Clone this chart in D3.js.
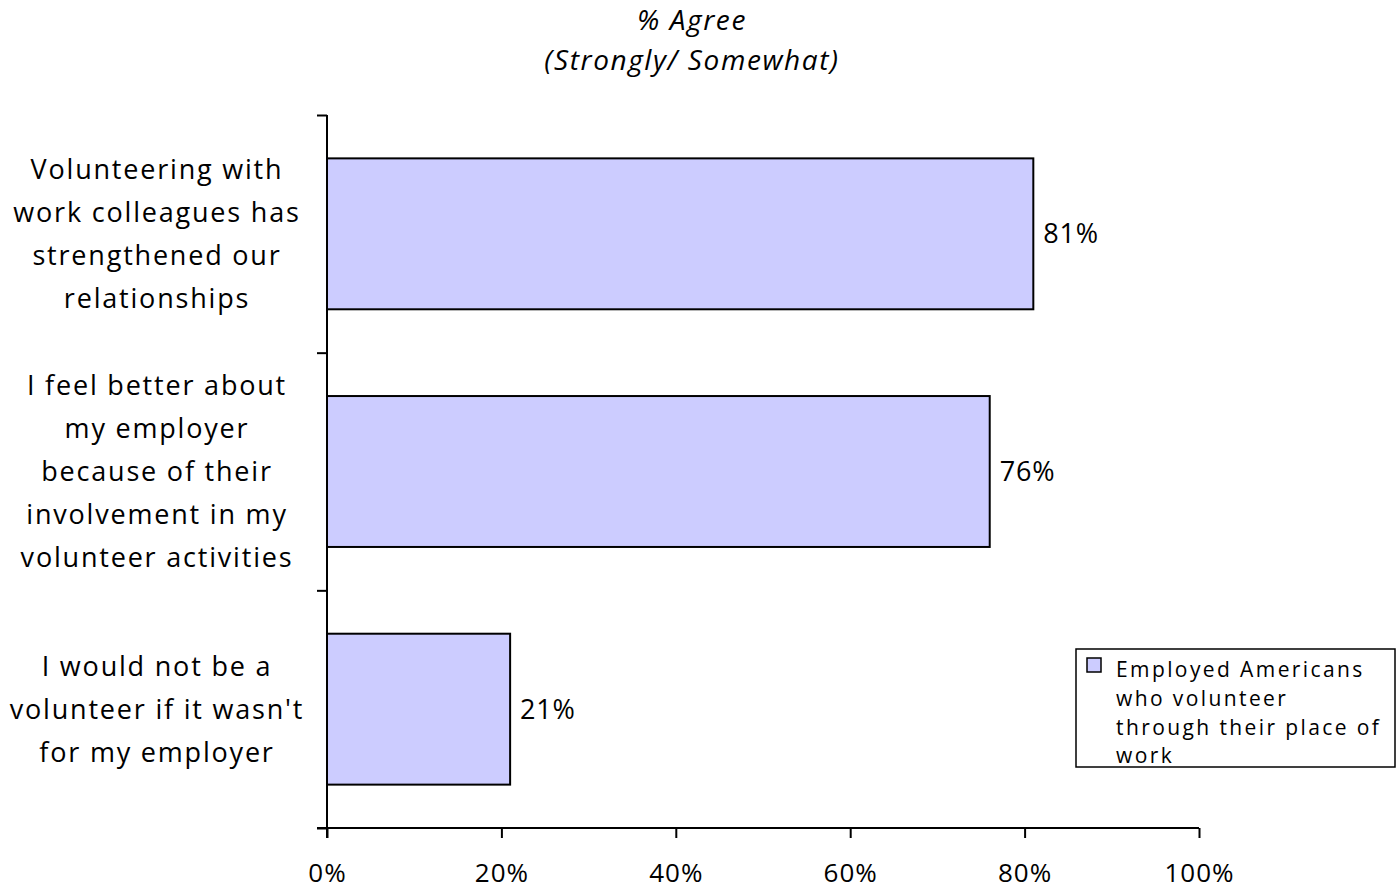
<!DOCTYPE html>
<html>
<head>
<meta charset="utf-8">
<script src="https://cdn.jsdelivr.net/npm/d3@7"></script>
<style>
  html, body { margin: 0; padding: 0; background: #fff; }
  svg text { font-family: "Open Sans", Lato, sans-serif; fill: #000; }
</style>
</head>
<body>
<svg id="chart" width="1397" height="893"></svg>
<script>
// Survey statements (one array of lines per bar) and share agreeing
const categories = [
  ["Volunteering with", "work colleagues has", "strengthened our", "relationships"],
  ["I feel better about", "my employer", "because of their", "involvement in my", "volunteer activities"],
  ["I would not be a", "volunteer if it wasn't", "for my employer"]
];
const values = [81, 76, 21];
const xTicks = [0, 20, 40, 60, 80, 100];
const titleLines = ["% Agree", "(Strongly/ Somewhat)"];
const legendLines = ["Employed Americans", "who volunteer", "through their place of", "work"];

const svg = d3.select("#chart");
const plotL = 327, plotR = 1199, plotT = 115, plotB = 828;
const FONT = "'Open Sans', Lato, sans-serif";

const x = d3.scaleLinear().domain([0, 100]).range([plotL, plotR]);
const y = d3.scaleBand().domain(d3.range(categories.length)).range([plotT, plotB]).padding(0);
const barH = y.bandwidth() * 0.635;

// Title
svg.append("g").selectAll("text").data(titleLines).join("text")
  .attr("x", 692).attr("y", (d, i) => 20 + i * 40)
  .attr("dy", "0.35em")
  .attr("text-anchor", "middle")
  .style("font-size", "28px").style("font-style", "italic").style("letter-spacing", "1.6px")
  .text(d => d);

// Bars
svg.append("g").selectAll("rect").data(values).join("rect")
  .attr("x", x(0))
  .attr("y", (d, i) => y(i) + (y.bandwidth() - barH) / 2)
  .attr("width", d => x(d) - x(0))
  .attr("height", barH)
  .attr("fill", "#ccccff")
  .attr("stroke", "#000")
  .attr("stroke-width", 2);

// Value labels
svg.append("g").selectAll("text").data(values).join("text")
  .attr("x", d => x(d) + 10)
  .attr("y", (d, i) => y(i) + y.bandwidth() / 2)
  .attr("dy", "0.35em")
  .style("font-size", "27px").style("letter-spacing", "0.8px")
  .text(d => d + "%");

// Category labels, centred on each band
const lineGap = 43;
const cat = svg.append("g").selectAll("text").data(categories).join("text")
  .attr("text-anchor", "middle")
  .style("font-size", "27px").style("letter-spacing", "1.8px");
cat.each(function (lines, i) {
  const cy = y(i) + y.bandwidth() / 2;
  const y0 = cy - (lines.length - 1) * lineGap / 2;
  d3.select(this).selectAll("tspan").data(lines).join("tspan")
    .attr("x", 157)
    .attr("y", (d, j) => y0 + j * lineGap)
    .attr("dy", "0.35em")
    .text(d => d);
});

// Category axis: ticks at band boundaries
const yAxis = d3.axisLeft(d3.scaleLinear().domain([0, 3]).range([plotT, plotB]))
  .tickValues([0, 1, 2, 3]).tickSize(10).tickSizeOuter(0).tickFormat("");
const gy = svg.append("g").attr("transform", `translate(${plotL},0)`).call(yAxis);
gy.select(".domain").attr("stroke", "#000").attr("stroke-width", 2)
  .attr("d", `M0,${plotT}V${plotB + 10}`);
gy.selectAll(".tick line").attr("stroke", "#000").attr("stroke-width", 2);

// Value axis
const xAxis = d3.axisBottom(x).tickValues(xTicks).tickSize(10).tickSizeOuter(0)
  .tickFormat(d => d + "%").tickPadding(26);
const gx = svg.append("g").attr("transform", `translate(0,${plotB})`).call(xAxis);
gx.select(".domain").attr("stroke", "#000").attr("stroke-width", 2)
  .attr("d", `M${plotL - 10},0H${plotR}`);
gx.selectAll(".tick line").attr("stroke", "#000").attr("stroke-width", 2);
gx.selectAll(".tick text").style("font-size", "26px").style("letter-spacing", "1px")
  .style("font-family", FONT).attr("fill", "#000");

// Legend
const lg = svg.append("g");
lg.append("rect").attr("x", 1076).attr("y", 649).attr("width", 319).attr("height", 118)
  .attr("fill", "#fff").attr("stroke", "#000").attr("stroke-width", 1.5);
lg.append("rect").attr("x", 1087).attr("y", 658).attr("width", 14).attr("height", 14)
  .attr("fill", "#ccccff").attr("stroke", "#000").attr("stroke-width", 1.5);
lg.append("g").selectAll("text").data(legendLines).join("text")
  .attr("x", 1116).attr("y", (d, i) => 670 + i * 28.7)
  .attr("dy", "0.35em")
  .style("font-size", "21px").style("letter-spacing", "2.4px")
  .text(d => d);
</script>
</body>
</html>
